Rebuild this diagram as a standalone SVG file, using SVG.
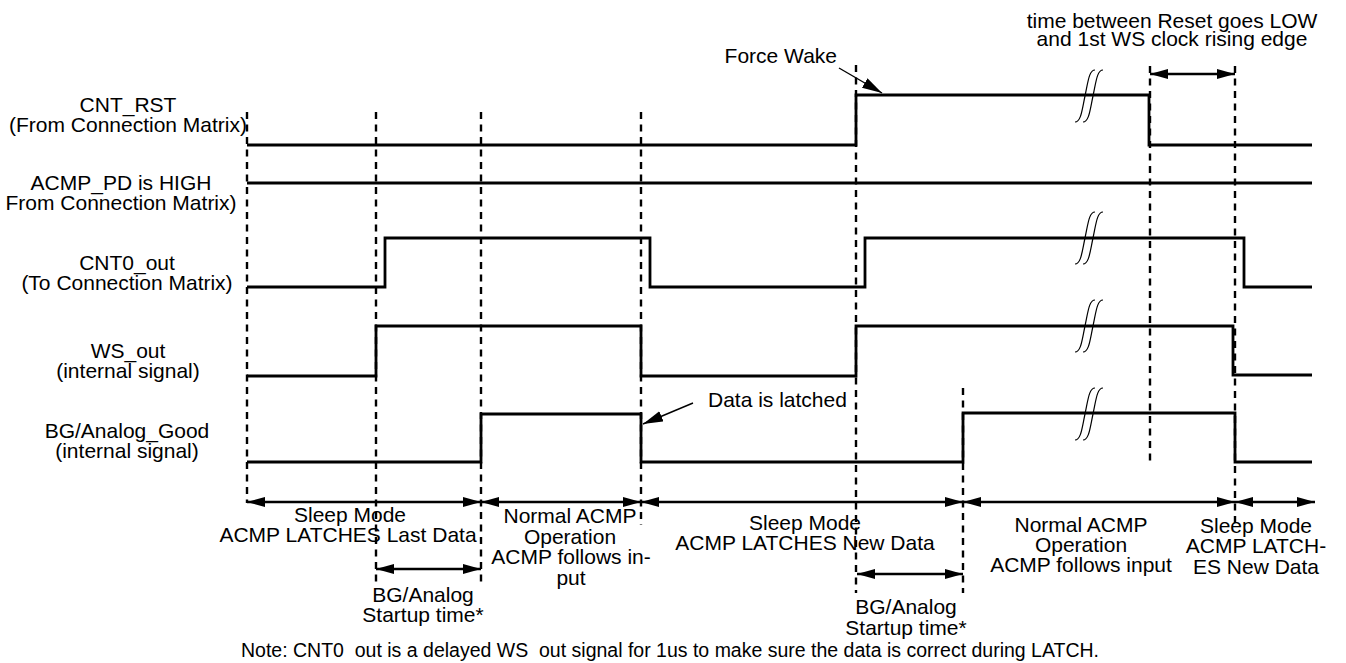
<svg xmlns="http://www.w3.org/2000/svg" width="1346" height="663" viewBox="0 0 1346 663">
<style>
text{font-family:"Liberation Sans",Arial,sans-serif;font-size:21px;fill:#000}
.c{text-anchor:middle}
.note{font-size:19.5px}
.sig{fill:none;stroke:#000;stroke-width:2.8}
.dash{fill:none;stroke:#000;stroke-width:2.4;stroke-dasharray:7 5.5}
.arr{fill:none;stroke:#000;stroke-width:2.4;marker-start:url(#ah);marker-end:url(#ah)}
.ptr{fill:none;stroke:#000;stroke-width:1.4;marker-end:url(#ah2)}
.brk{fill:none;stroke:#000;stroke-width:1.2}
</style>
<defs>
<marker id="ah" markerUnits="userSpaceOnUse" markerWidth="20" markerHeight="12" refX="18" refY="5" orient="auto-start-reverse"><path d="M0,0 L18,5 L0,10 z" fill="#000"/></marker>
<marker id="ah2" markerUnits="userSpaceOnUse" markerWidth="22" markerHeight="12" refX="20" refY="5.5" orient="auto"><path d="M0,0 L20,5.5 L0,11 z" fill="#000"/></marker>
<path id="bk" d="M-14,26 C-8,26 -7,14 -4,0 C-1,-14 0,-26 6,-26"/>
</defs>

<g id="guides">
<line class="dash" x1="247" y1="112" x2="247" y2="503"/>
<line class="dash" x1="376" y1="112" x2="376" y2="582"/>
<line class="dash" x1="481" y1="112" x2="481" y2="583"/>
<line class="dash" x1="641" y1="112" x2="641" y2="525"/>
<line class="dash" x1="856" y1="65" x2="856" y2="593"/>
<line class="dash" x1="963" y1="388" x2="963" y2="593"/>
<line class="dash" x1="1150" y1="66" x2="1150" y2="462"/>
<line class="dash" x1="1235" y1="66" x2="1235" y2="525"/>
</g>

<g id="sig-cnt-rst">
<text class="c" x="128" y="112">CNT_RST</text>
<text class="c" x="128" y="132">(From Connection Matrix)</text>
<path class="sig" d="M247,145 H856 V95 H1149 V145 H1312"/>
</g>
<g id="sig-acmp-pd">
<text class="c" x="121" y="190">ACMP_PD is HIGH</text>
<text class="c" x="121" y="210">From Connection Matrix)</text>
<path class="sig" d="M247,183 H1312"/>
</g>
<g id="sig-cnt0">
<text class="c" x="127" y="270">CNT0_out</text>
<text class="c" x="127" y="290">(To Connection Matrix)</text>
<path class="sig" d="M247,287 H385 V238 H650 V287 H865 V238 H1244 V287 H1312"/>
</g>
<g id="sig-ws">
<text class="c" x="128" y="358">WS_out</text>
<text class="c" x="128" y="378">(internal signal)</text>
<path class="sig" d="M247,376 H376 V326 H641 V376 H856 V326 H1233 V375 H1312"/>
</g>
<g id="sig-bg">
<text class="c" x="127" y="438">BG/Analog_Good</text>
<text class="c" x="127" y="458">(internal signal)</text>
<path class="sig" d="M247,462 H481 V414 H641 V462 H963 V413 H1235 V462 H1312"/>
</g>

<g id="breaks">
<use href="#bk" class="brk" x="1089" y="96"/><use href="#bk" class="brk" x="1097" y="96"/>
<use href="#bk" class="brk" x="1089" y="238"/><use href="#bk" class="brk" x="1097" y="238"/>
<use href="#bk" class="brk" x="1089" y="326"/><use href="#bk" class="brk" x="1097" y="326"/>
<use href="#bk" class="brk" x="1089" y="414"/><use href="#bk" class="brk" x="1097" y="414"/>
</g>

<g id="connectors">
<line class="arr" x1="247" y1="502" x2="481" y2="502"/>
<line class="arr" x1="481" y1="502" x2="641" y2="502"/>
<line class="arr" x1="641" y1="502" x2="963" y2="502"/>
<line class="arr" x1="963" y1="502" x2="1235" y2="502"/>
<line class="arr" x1="1235" y1="502" x2="1315" y2="502"/>
<line class="arr" x1="376" y1="569" x2="481" y2="569"/>
<line class="arr" x1="857" y1="574" x2="963" y2="574"/>
<line class="arr" x1="1150" y1="74" x2="1235" y2="74"/>
<line class="ptr" x1="839" y1="68" x2="882" y2="93"/>
<line class="ptr" x1="693" y1="403" x2="643" y2="424"/>
</g>

<g id="annotations">
<text x="837" y="63" text-anchor="end">Force Wake</text>
<text class="c" x="1172" y="28">time between Reset goes LOW</text>
<text class="c" x="1172" y="46">and 1st WS clock rising edge</text>
<text x="708" y="407">Data is latched</text>
<text class="c" x="350" y="522">Sleep Mode</text>
<text class="c" x="348" y="542">ACMP LATCHES Last Data</text>
<text class="c" x="570" y="523">Normal ACMP</text>
<text class="c" x="570" y="543.5">Operation</text>
<text class="c" x="571" y="564">ACMP follows in-</text>
<text class="c" x="571" y="584.5">put</text>
<text class="c" x="423" y="602">BG/Analog</text>
<text class="c" x="423" y="622">Startup time*</text>
<text class="c" x="805" y="530">Sleep Mode</text>
<text class="c" x="805" y="550">ACMP LATCHES New Data</text>
<text class="c" x="906" y="614">BG/Analog</text>
<text class="c" x="906" y="635">Startup time*</text>
<text class="c" x="1081" y="532">Normal ACMP</text>
<text class="c" x="1081" y="552">Operation</text>
<text class="c" x="1081" y="572">ACMP follows input</text>
<text class="c" x="1256" y="533">Sleep Mode</text>
<text class="c" x="1256" y="553">ACMP LATCH-</text>
<text class="c" x="1256" y="574">ES New Data</text>
<text class="c note" x="670" y="657">Note: CNT0&#160;&#160;out is a delayed WS&#160;&#160;out signal for 1us to make sure the data is correct during LATCH.</text>
</g>
</svg>
